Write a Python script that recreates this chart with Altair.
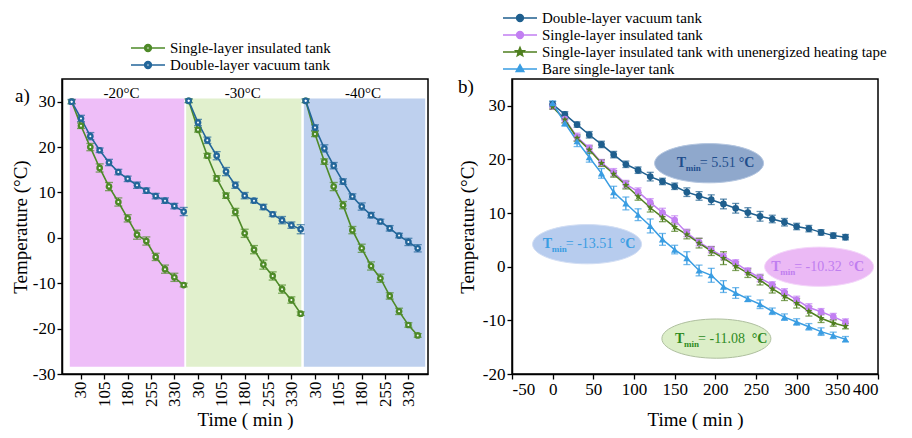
import math
import altair as alt
import pandas as pd

FONT = "Liberation Serif"

# ---------------- panel a) data ----------------
t_a = [0, 30, 60, 90, 120, 150, 180, 210, 240, 270, 300, 330, 360]
seg_labels = ["-20°C", "-30°C", "-40°C"]
seg_offset = [0, 376, 752]
seg_label_pos = [160, 174, 184]
shade_start = [-6, -8, -6]
shade_end = [362, 362, 384]
shade_colors = ["#eebef8", "#e1f0cd", "#bed0ee"]
shade_bottom = -28.4
shade_top = 30.7

single_m20 = [30.0, 24.7, 20.0, 15.4, 11.3, 7.9, 4.3, 0.7, -0.7, -4.2, -6.9, -8.7, -10.4]
double_m20 = [30.0, 26.3, 22.4, 19.3, 16.6, 14.5, 13.0, 11.6, 10.4, 9.2, 8.2, 7.0, 5.8]
single_m30 = [30.2, 23.8, 18.1, 13.1, 9.3, 5.7, 1.0, -2.6, -5.9, -8.4, -11.3, -13.7, -16.7]
double_m30 = [30.2, 25.4, 21.5, 18.1, 14.6, 11.6, 9.3, 8.2, 6.8, 5.2, 3.9, 2.8, 1.9]
single_m40 = [30.2, 22.9, 16.8, 11.3, 7.2, 1.7, -2.3, -6.2, -8.9, -12.8, -16.2, -19.2, -21.5]
double_m40 = [30.2, 24.3, 19.7, 15.9, 12.4, 9.1, 6.9, 5.0, 3.6, 2.1, 0.5, -0.9, -2.3]

single_m20_err = [0.4, 0.6, 0.8, 0.9, 0.9, 0.9, 0.8, 1.0, 0.9, 0.8, 0.9, 0.9, 0.4]
double_m20_err = [0.5, 0.7, 0.8, 0.5, 0.7, 0.6, 0.6, 0.7, 0.6, 0.6, 0.6, 0.6, 0.9]
single_m30_err = [0.4, 0.5, 0.5, 0.6, 0.6, 0.8, 0.9, 0.9, 1.0, 0.9, 0.9, 0.7, 0.4]
double_m30_err = [0.4, 0.7, 0.7, 0.9, 0.9, 0.7, 0.7, 0.5, 0.6, 0.5, 0.8, 0.7, 1.0]
single_m40_err = [0.4, 0.6, 0.6, 0.9, 0.8, 0.8, 0.9, 0.9, 0.9, 0.7, 0.7, 0.5, 0.4]
double_m40_err = [0.4, 0.6, 0.8, 0.7, 0.6, 0.6, 0.8, 0.6, 0.5, 0.6, 0.5, 0.8, 0.8]

a_names = ["Single-layer insulated tank", "Double-layer vacuum tank"]
a_colors = ["#4e8a28", "#23669a"]
a_single = [single_m20, single_m30, single_m40]
a_double = [double_m20, double_m30, double_m40]
a_single_err = [single_m20_err, single_m30_err, single_m40_err]
a_double_err = [double_m20_err, double_m30_err, double_m40_err]

# ---------------- panel b) data ----------------
t_b = [0, 15, 30, 45, 60, 75, 90, 105, 120, 135, 150, 165, 180,
       195, 210, 225, 240, 255, 270, 285, 300, 315, 330, 345, 360]
b_names = ["Double-layer vacuum tank", "Single-layer insulated tank",
           "Single-layer insulated tank with unenergized heating tape", "Bare single-layer tank"]
b_colors = ["#1f5f8e", "#c27ff2", "#4f7f1f", "#3a9de2"]

double_b = [30.3, 28.4, 26.5, 24.6, 22.8, 20.9, 19.1, 18.0, 16.8, 15.9, 15.0, 13.9, 13.2,
            12.5, 11.7, 10.9, 10.1, 9.4, 8.9, 8.3, 7.5, 7.1, 6.4, 5.8, 5.51]
single_b = [29.9, 27.5, 24.2, 22.1, 19.4, 17.6, 15.4, 14.0, 12.0, 10.1, 8.7, 6.3, 4.6,
            3.2, 1.9, 0.7, -0.8, -2.1, -3.4, -4.8, -6.2, -7.6, -8.4, -9.3, -10.32]
tape_b = [29.8, 27.4, 24.0, 21.8, 19.3, 17.3, 15.2, 13.1, 11.0, 9.2, 7.4, 6.0, 4.4,
          2.9, 1.6, 0.1, -1.2, -2.5, -4.1, -5.5, -6.8, -8.3, -9.6, -10.5, -11.08]
bare_b = [30.5, 26.8, 23.4, 20.4, 17.4, 13.9, 11.8, 9.7, 7.6, 5.1, 3.2, 1.6, -0.7,
          -1.6, -3.7, -4.9, -6.0, -7.0, -8.3, -9.4, -10.3, -11.2, -12.1, -12.8, -13.51]

double_b_err = [0.5, 0.5, 0.5, 0.6, 0.6, 0.6, 0.6, 0.6, 0.8, 0.6, 0.6, 0.8, 0.8,
                0.9, 0.9, 0.9, 0.9, 0.9, 0.7, 0.7, 0.6, 0.6, 0.5, 0.5, 0.5]
single_b_err = [0.5, 0.6, 0.7, 0.6, 0.6, 0.7, 0.7, 0.7, 0.7, 0.8, 0.8, 0.7, 0.7,
                0.6, 0.6, 0.6, 0.6, 0.7, 0.6, 0.7, 0.7, 0.7, 0.6, 0.6, 0.6]
tape_b_err = [0.4, 0.6, 0.6, 0.7, 0.6, 0.6, 0.7, 0.7, 0.8, 0.8, 0.8, 0.8, 0.9,
              0.8, 1.2, 0.8, 0.8, 0.9, 0.8, 0.8, 0.9, 0.9, 0.8, 0.6, 0.5]
bare_b_err = [0.4, 0.6, 1.0, 0.9, 0.9, 1.1, 1.2, 1.1, 1.3, 1.1, 0.8, 1.2, 1.0,
              1.3, 1.1, 1.0, 0.5, 0.8, 0.6, 0.6, 0.6, 0.6, 0.7, 0.6, 0.5]

ann_x = [192.3, 42.3, 327.6, 201.3]
ann_y = [19.3, 4.2, 0.0, -13.4]
ann_tx = [152.6, -12.2, 268.6, 150.5]
ann_tend = [244.3, 98.0, 379.3, 260.3]
ann_val = ["= 5.51", "= -13.51", "= -10.32", "= -11.08"]
ann_fill = ["#8fa8cc", "#b7ccee", "#ebb9f5", "#dceec8"]
ann_stroke = ["#b4c6e0", "#d2def4", "#f4d6fa", "#aebf9e"]
ann_text = ["#1f4e8c", "#3a9de2", "#c07ef0", "#2e8b1e"]

# ---------------- shapes (style only) ----------------
def star_path(r_out, r_in, cx=0.0):
    pts = []
    for i in range(10):
        r = r_out if i % 2 == 0 else r_in
        a = -math.pi / 2 + i * math.pi / 5
        pts.append((cx + r * math.cos(a), r * math.sin(a)))
    return "M " + " L ".join(f"{x:.3f} {y:.3f}" for x, y in pts) + " Z"

def circ(r, cx=0.0, sweep=1):
    return (f"M {cx - r:.3f} 0 A {r} {r} 0 1 {sweep} {cx + r:.3f} 0 "
            f"A {r} {r} 0 1 {sweep} {cx - r:.3f} 0 Z")

CX = -1.125  # marker centre inside the legend glyph (glyph unit = 8 px)
leg_ring = (f"M -3.25 0 L {CX - 0.44:.3f} 0 M {CX + 0.44:.3f} 0 L 1 0 "
            + circ(0.44, CX, 1) + " " + circ(0.17, CX, 0))
leg_circle = "M -3.25 0 L 1 0 " + circ(0.44, CX)
leg_star = "M -3.25 0 L 1 0 " + star_path(0.6, 0.26, CX)
leg_tri = (f"M -3.25 0 L 1 0 M {CX:.3f} -0.55 L {CX + 0.5:.3f} 0.33 "
           f"L {CX - 0.5:.3f} 0.33 Z")
ellipse_path = "M -1 0 A 1 0.36 0 1 1 1 0 A 1 0.36 0 1 1 -1 0 Z"
data_star = star_path(1, 0.42)

# ---------------- build tables ----------------
rows_a = []
for k in range(3):
    for name, vals, errs in [(a_names[0], a_single[k], a_single_err[k]),
                             (a_names[1], a_double[k], a_double_err[k])]:
        for t, v, e in zip(t_a, vals, errs):
            rows_a.append({"series": name, "seg": k, "x": t + seg_offset[k], "y": v,
                           "lo": v - e, "hi": v + e})
df_a = pd.DataFrame(rows_a)

df_shade = pd.DataFrame({
    "x": [s + o for s, o in zip(shade_start, seg_offset)],
    "x2": [e + o for e, o in zip(shade_end, seg_offset)],
    "y": [shade_bottom] * 3, "y2": [shade_top] * 3, "c": shade_colors})
df_seglab = pd.DataFrame({"x": [p + o for p, o in zip(seg_label_pos, seg_offset)],
                          "y": [32.0] * 3, "label": seg_labels})

rows_b = []
for name, vals, errs in zip(b_names, [double_b, single_b, tape_b, bare_b],
                            [double_b_err, single_b_err, tape_b_err, bare_b_err]):
    for t, v, e in zip(t_b, vals, errs):
        rows_b.append({"series": name, "x": t, "y": v, "lo": v - e, "hi": v + e})
df_b = pd.DataFrame(rows_b)

df_ann = pd.DataFrame({"x": ann_x, "y": ann_y, "tx": ann_tx, "tend": ann_tend,
                       "val": ann_val, "fill": ann_fill, "stroke": ann_stroke,
                       "tc": ann_text})

W, H = 366, 295
HYPHEN = "'' + datum.value"

def legend_def(lx, ly, rowpad):
    return alt.Legend(title=None, orient="none", legendX=lx, legendY=ly, labelFont=FONT,
                      labelFontSize=15, labelColor="black", symbolSize=256,
                      symbolStrokeWidth=1.3, rowPadding=rowpad, symbolOpacity=1,
                      labelLimit=600, labelOffset=4, padding=0)

# ---------------- panel a ----------------
ticks_a = [v + o for o in seg_offset for v in [30, 105, 180, 255, 330]]
xa = alt.X("x:Q", scale=alt.Scale(domain=[-31, 1145], nice=False, zero=False),
           axis=alt.Axis(values=ticks_a, labelExpr="datum.value % 376", labelAngle=-90,
                         title="Time ( min )", titlePadding=4))
ya = alt.Y("y:Q", scale=alt.Scale(domain=[-30, 35], nice=False, zero=False),
           axis=alt.Axis(values=[-30, -20, -10, 0, 10, 20, 30], title="Temperature (°C)",
                         titlePadding=2, labelExpr=HYPHEN))
# data layers list the domain in reverse order so their (legend-less) colour scale
# stays separate from the legend layer's scales
col_a = alt.Color("series:N", scale=alt.Scale(domain=a_names[::-1], range=a_colors[::-1]),
                  legend=None)

base_a = alt.Chart(df_a)
shade = alt.Chart(df_shade).mark_rect().encode(
    x=xa, x2="x2:Q", y=ya, y2="y2:Q", fill=alt.Fill("c:N", scale=None))
seglab = alt.Chart(df_seglab).mark_text(font=FONT, fontSize=15, baseline="middle").encode(
    x=xa, y=ya, text="label:N")
err_a = base_a.mark_rule(strokeWidth=1.3).encode(x=xa, y=alt.Y("lo:Q"), y2="hi:Q", color=col_a)
cap_lo_a = base_a.mark_tick(orient="horizontal", size=8, thickness=1.3).encode(
    x=xa, y=alt.Y("lo:Q"), color=col_a)
cap_hi_a = base_a.mark_tick(orient="horizontal", size=8, thickness=1.3).encode(
    x=xa, y=alt.Y("hi:Q"), color=col_a)
line_a = base_a.mark_line(strokeWidth=1.6).encode(x=xa, y=ya, color=col_a, detail="seg:N")
pt_a = base_a.mark_point(filled=True, size=45, opacity=1, shape="circle").encode(
    x=xa, y=ya, color=col_a)
dot_a = base_a.mark_point(filled=True, size=4, opacity=1, color="white", shape="circle").encode(
    x=xa, y=ya)
leg_a = legend_def(86, -40, 0)
legend_a = base_a.mark_point(filled=True).encode(
    x=xa, y=ya,
    fill=alt.Fill("series:N", scale=alt.Scale(domain=a_names, range=a_colors), legend=leg_a),
    stroke=alt.Stroke("series:N", scale=alt.Scale(domain=a_names, range=a_colors), legend=leg_a),
    shape=alt.Shape("series:N", scale=alt.Scale(domain=a_names, range=[leg_ring, leg_ring]),
                    legend=leg_a),
    opacity=alt.value(0))
lab_a = alt.Chart(pd.DataFrame({"t": ["a)"]})).mark_text(
    font=FONT, fontSize=19, align="left", baseline="middle").encode(
    x=alt.value(-47), y=alt.value(17), text="t:N")

chart_a = alt.layer(shade, seglab, err_a, cap_lo_a, cap_hi_a, line_a, pt_a, dot_a,
                    legend_a, lab_a).properties(width=W, height=H)

# ---------------- panel b ----------------
xb = alt.X("x:Q", scale=alt.Scale(domain=[-50, 400], nice=False, zero=False),
           axis=alt.Axis(values=list(range(-50, 401, 50)), labelAngle=0,
                         title="Time ( min )", titlePadding=13, labelExpr=HYPHEN))
yb = alt.Y("y:Q", scale=alt.Scale(domain=[-20, 35], nice=False, zero=False),
           axis=alt.Axis(values=[-20, -10, 0, 10, 20, 30], title="Temperature (°C)",
                         titlePadding=5, labelExpr=HYPHEN))
col_b = alt.Color("series:N", scale=alt.Scale(domain=b_names, range=b_colors), legend=None)
base_b = alt.Chart(df_b)

ell = alt.Chart(df_ann).mark_point(filled=True, shape=ellipse_path, size=11881, opacity=1,
                                   strokeWidth=1).encode(
    x=xb, y=yb, fill=alt.Fill("fill:N", scale=None), stroke=alt.Stroke("stroke:N", scale=None))
txt_T = alt.Chart(df_ann).mark_text(font=FONT, fontSize=14, fontWeight="bold", align="left",
                                    baseline="middle").encode(
    x=alt.X("tx:Q"), y=yb, text=alt.value("T"), fill=alt.Fill("tc:N", scale=None))
txt_min = alt.Chart(df_ann).mark_text(font=FONT, fontSize=9, fontWeight="bold", align="left",
                                      baseline="middle", dx=9, dy=5).encode(
    x=alt.X("tx:Q"), y=yb, text=alt.value("min"), fill=alt.Fill("tc:N", scale=None))
txt_val = alt.Chart(df_ann).mark_text(font=FONT, fontSize=14, align="left",
                                      baseline="middle", dx=23).encode(
    x=alt.X("tx:Q"), y=yb, text="val:N", fill=alt.Fill("tc:N", scale=None))
txt_deg = alt.Chart(df_ann).mark_text(font=FONT, fontSize=14, fontWeight="bold", align="right",
                                      baseline="middle", dx=3).encode(
    x=alt.X("tend:Q"), y=yb, text=alt.value("°C"), fill=alt.Fill("tc:N", scale=None))

err_b = base_b.mark_rule(strokeWidth=1.3).encode(x=xb, y=alt.Y("lo:Q"), y2="hi:Q", color=col_b)
cap_lo_b = base_b.mark_tick(orient="horizontal", size=7, thickness=1.3).encode(
    x=xb, y=alt.Y("lo:Q"), color=col_b)
cap_hi_b = base_b.mark_tick(orient="horizontal", size=7, thickness=1.3).encode(
    x=xb, y=alt.Y("hi:Q"), color=col_b)
line_b = base_b.mark_line(strokeWidth=1.5).encode(x=xb, y=yb, color=col_b)
pt_circ = base_b.mark_point(filled=True, opacity=1, shape="circle", size=45).encode(
    x=xb, y=yb, color=col_b).transform_filter(
    alt.FieldOneOfPredicate(field="series", oneOf=b_names[:2]))
pt_star = base_b.mark_point(filled=True, opacity=1, shape=data_star, size=55).encode(
    x=xb, y=yb, color=col_b).transform_filter(
    alt.FieldEqualPredicate(field="series", equal=b_names[2]))
pt_tri = base_b.mark_point(filled=True, opacity=1, shape="triangle-up", size=50).encode(
    x=xb, y=yb, color=col_b).transform_filter(
    alt.FieldEqualPredicate(field="series", equal=b_names[3]))
leg_b = legend_def(8, -70, 0)
legend_b = base_b.mark_point(filled=True).encode(
    x=xb, y=yb,
    color=alt.Color("series:N", scale=alt.Scale(domain=b_names, range=b_colors), legend=leg_b),
    stroke=alt.Stroke("series:N", scale=alt.Scale(domain=b_names, range=b_colors), legend=leg_b),
    shape=alt.Shape("series:N", scale=alt.Scale(domain=b_names,
                    range=[leg_circle, leg_circle, leg_star, leg_tri]), legend=leg_b),
    opacity=alt.value(0))
lab_b = alt.Chart(pd.DataFrame({"t": ["b)"]})).mark_text(
    font=FONT, fontSize=19, align="left", baseline="middle").encode(
    x=alt.value(-54), y=alt.value(8), text="t:N")

chart_b = alt.layer(ell, err_b, cap_lo_b, cap_hi_b, line_b, pt_circ, pt_star, pt_tri,
                    txt_T, txt_min, txt_val, txt_deg, legend_b, lab_b).properties(
    width=W, height=H)

chart = alt.hconcat(chart_a, chart_b, spacing=84, bounds="flush").resolve_scale(
    color="independent", fill="independent", stroke="independent", shape="independent"
).resolve_legend(
    color="independent", fill="independent", stroke="independent", shape="independent"
).properties(
    padding={"left": 2, "top": 0, "right": 5, "bottom": 2}, background="white"
).configure_view(stroke="black", strokeWidth=1.5).configure_axis(
    grid=False, domainColor="black", domainWidth=1.5, tickColor="black", tickWidth=1.3,
    tickSize=5, labelColor="black", labelFont=FONT, labelFontSize=17, labelPadding=2,
    titleColor="black", titleFont=FONT, titleFontSize=19, titleFontWeight="normal"
)

chart.save("out.html", embed_options={"renderer": "svg", "actions": False})
